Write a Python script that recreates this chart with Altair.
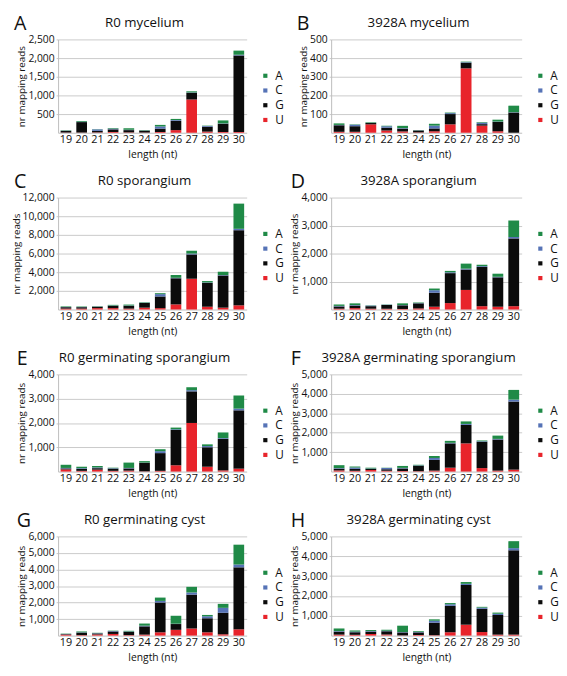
import altair as alt
import pandas as pd

lengths = [19, 20, 21, 22, 23, 24, 25, 26, 27, 28, 29, 30]
nucleotides = ["A", "C", "G", "U"]
nt_colors = ["#1f8a47", "#5673b6", "#0b0b0b", "#e8242b"]
stack_rank = {"U": 0, "G": 1, "C": 2, "A": 3}

# A: R0 mycelium
r0_mycelium_U = [5, 5, 10, 20, 10, 5, 20, 70, 890, 30, 20, 20]
r0_mycelium_G = [45, 280, 40, 70, 60, 50, 90, 250, 180, 130, 220, 2050]
r0_mycelium_C = [5, 10, 40, 20, 10, 5, 60, 20, 10, 20, 10, 20]
r0_mycelium_A = [10, 20, 5, 15, 40, 10, 40, 30, 30, 10, 80, 110]

# B: 3928A mycelium
a3928_mycelium_U = [5, 5, 45, 12, 7, 2, 8, 45, 345, 38, 8, 0]
a3928_mycelium_G = [35, 30, 7, 15, 15, 10, 15, 55, 30, 8, 50, 108]
a3928_mycelium_C = [2, 8, 1, 8, 3, 1, 15, 5, 3, 8, 2, 2]
a3928_mycelium_A = [8, 2, 3, 3, 12, 1, 10, 3, 3, 3, 10, 35]

# C: R0 sporangium
r0_sporangium_U = [100, 100, 150, 150, 100, 200, 150, 550, 3300, 300, 200, 450]
r0_sporangium_G = [150, 150, 150, 250, 300, 500, 1250, 2800, 2600, 2550, 3450, 8050]
r0_sporangium_C = [20, 20, 20, 30, 30, 30, 250, 50, 100, 50, 50, 150]
r0_sporangium_A = [60, 50, 30, 70, 100, 50, 100, 300, 300, 150, 350, 2700]

# D: 3928A sporangium
a3928_sporangium_U = [30, 50, 30, 30, 20, 40, 100, 230, 700, 120, 100, 120]
a3928_sporangium_G = [80, 90, 90, 130, 130, 180, 500, 1070, 730, 1400, 1050, 2420]
a3928_sporangium_C = [20, 20, 20, 10, 10, 10, 90, 30, 30, 30, 20, 50]
a3928_sporangium_A = [50, 60, 10, 10, 60, 20, 60, 50, 180, 50, 110, 590]

# E: R0 germinating sporangium
r0_germ_spor_U = [90, 30, 80, 30, 40, 10, 30, 260, 2000, 200, 50, 120]
r0_germ_spor_G = [40, 80, 60, 90, 90, 350, 730, 1450, 1300, 800, 1300, 2400]
r0_germ_spor_C = [20, 30, 30, 20, 20, 10, 80, 30, 50, 50, 30, 70]
r0_germ_spor_A = [130, 60, 60, 20, 220, 60, 80, 70, 120, 70, 230, 540]

# F: 3928A germinating sporangium
a3928_germ_spor_U = [60, 40, 80, 40, 30, 20, 50, 200, 1450, 180, 50, 100]
a3928_germ_spor_G = [90, 100, 60, 80, 130, 280, 550, 1250, 950, 1350, 1600, 3500]
a3928_germ_spor_C = [30, 70, 20, 60, 30, 20, 100, 30, 50, 30, 30, 100]
a3928_germ_spor_A = [150, 50, 40, 20, 100, 30, 100, 100, 130, 40, 170, 500]

# G: R0 germinating cyst
r0_germ_cyst_U = [60, 30, 70, 100, 30, 60, 200, 350, 430, 200, 80, 380]
r0_germ_cyst_G = [30, 150, 60, 150, 200, 500, 1800, 350, 2050, 850, 1300, 3750]
r0_germ_cyst_C = [10, 20, 20, 30, 20, 40, 100, 20, 130, 120, 300, 170]
r0_germ_cyst_A = [20, 50, 20, 20, 40, 130, 200, 480, 340, 80, 240, 1200]

# H: 3928A germinating cyst
a3928_germ_cyst_U = [50, 40, 80, 60, 10, 30, 20, 170, 550, 180, 50, 50]
a3928_germ_cyst_G = [150, 130, 120, 160, 150, 130, 630, 1330, 2000, 1170, 990, 4250]
a3928_germ_cyst_C = [30, 30, 30, 30, 20, 20, 100, 80, 60, 60, 60, 110]
a3928_germ_cyst_A = [130, 60, 50, 40, 320, 40, 70, 60, 90, 40, 60, 350]

panel_letters = ["A", "B", "C", "D", "E", "F", "G", "H"]
panel_titles = ["R0 mycelium", "3928A mycelium", "R0 sporangium", "3928A sporangium",
                "R0 germinating sporangium", "3928A germinating sporangium",
                "R0 germinating cyst", "3928A germinating cyst"]
y_max = [2500, 500, 12000, 4000, 4000, 5000, 6000, 5000]
y_ticks = [[500, 1000, 1500, 2000, 2500], [100, 200, 300, 400, 500],
           [2000, 4000, 6000, 8000, 10000, 12000], [1000, 2000, 3000, 4000],
           [1000, 2000, 3000, 4000], [1000, 2000, 3000, 4000, 5000],
           [1000, 2000, 3000, 4000, 5000, 6000], [1000, 2000, 3000, 4000, 5000]]
panel_values = [
    (r0_mycelium_U, r0_mycelium_G, r0_mycelium_C, r0_mycelium_A),
    (a3928_mycelium_U, a3928_mycelium_G, a3928_mycelium_C, a3928_mycelium_A),
    (r0_sporangium_U, r0_sporangium_G, r0_sporangium_C, r0_sporangium_A),
    (a3928_sporangium_U, a3928_sporangium_G, a3928_sporangium_C, a3928_sporangium_A),
    (r0_germ_spor_U, r0_germ_spor_G, r0_germ_spor_C, r0_germ_spor_A),
    (a3928_germ_spor_U, a3928_germ_spor_G, a3928_germ_spor_C, a3928_germ_spor_A),
    (r0_germ_cyst_U, r0_germ_cyst_G, r0_germ_cyst_C, r0_germ_cyst_A),
    (a3928_germ_cyst_U, a3928_germ_cyst_G, a3928_germ_cyst_C, a3928_germ_cyst_A),
]

row_heights = [95, 114, 99, 101]
col_widths = [192, 194]
letter_x = [-45, -35, -45, -41, -42, -41, -42, -41]

FONT = "Open Sans"


def make_panel(i):
    U, G, C, A = panel_values[i]
    width = col_widths[i % 2]
    height = row_heights[i // 2]
    recs = []
    for nt, vals in (("U", U), ("G", G), ("C", C), ("A", A)):
        for L, v in zip(lengths, vals):
            recs.append({"length": L, "nt": nt, "reads": v, "rank": stack_rank[nt]})
    df = pd.DataFrame(recs)

    bars = alt.Chart(df).mark_bar().encode(
        x=alt.X("length:O", title="length (nt)",
                scale=alt.Scale(paddingInner=0.32, paddingOuter=0.16),
                axis=alt.Axis(labelAngle=0, ticks=False, grid=False,
                              labelFontSize=11, labelPadding=1,
                              titleFontSize=10.5, titleFontWeight="normal",
                              titlePadding=5, domainColor="#bdbdbd")),
        y=alt.Y("reads:Q", stack="zero",
                scale=alt.Scale(domain=[0, y_max[i]], nice=False),
                axis=alt.Axis(values=y_ticks[i], format=",d", title="nr mapping reads",
                              ticks=True, tickSize=2, tickColor="#c8c8c8",
                              labelFontSize=10.5, labelPadding=2,
                              titleFontSize=10, titleFontWeight="normal",
                              titlePadding=1, domainColor="#bdbdbd",
                              gridColor="#cacaca")),
        color=alt.Color("nt:N", scale=alt.Scale(domain=nucleotides, range=nt_colors),
                        legend=alt.Legend(title=None, orient="none",
                                          legendX=width + 13, legendY=31,
                                          symbolType="square", symbolSize=18,
                                          symbolStrokeWidth=0,
                                          labelFontSize=12, labelOffset=4,
                                          rowPadding=3)),
        order=alt.Order("rank:Q", sort="ascending"),
    )
    letter = alt.Chart(pd.DataFrame({"t": [panel_letters[i]]})).mark_text(
        fontSize=20, align="left", baseline="alphabetic", font=FONT, color="#111"
    ).encode(text="t:N", x=alt.value(letter_x[i]), y=alt.value(-10))
    title = alt.Chart(pd.DataFrame({"t": [panel_titles[i]]})).mark_text(
        fontSize=13.5, align="center", baseline="alphabetic", font=FONT, color="#111"
    ).encode(text="t:N", x=alt.value(width / 2 - 8), y=alt.value(-13))
    return alt.layer(bars, letter, title).properties(width=width, height=height)


panels = [make_panel(i) for i in range(8)]

chart = alt.concat(
    *panels, columns=2, bounds="flush", align="each",
    spacing={"row": 66, "column": 86},
).resolve_scale(color="independent").properties(
    padding={"left": 3, "top": 0, "right": 0, "bottom": 0}
).configure(font=FONT).configure_view(stroke=None).configure_axis(
    labelColor="#111", titleColor="#111"
).configure_legend(labelColor="#111")

chart.save("out.html", embed_options={"renderer": "svg", "actions": False})
